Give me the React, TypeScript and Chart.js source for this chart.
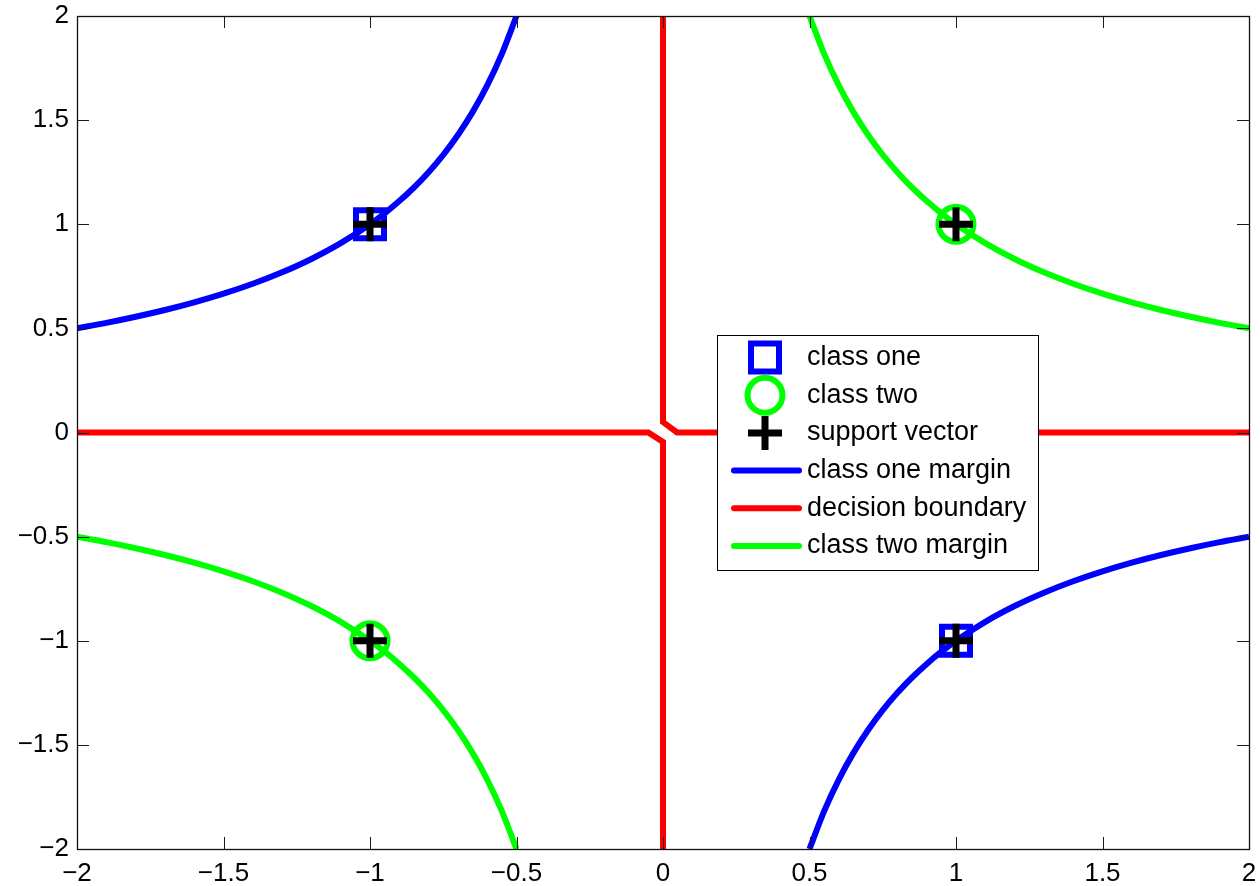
import React, { useEffect, useRef } from 'react';
import { Chart, registerables } from 'chart.js';

Chart.register(...registerables);

// ---- data ----
const classOneX = [-1, 1];
const classOneY = [1, -1];
const classTwoX = [1, -1];
const classTwoY = [1, -1];
const supportX = [-1, 1, 1, -1];
const supportY = [1, -1, 1, -1];

// class one margin (upper-left branch)
const marginOneLeftX = [-2, -1.9, -1.8, -1.7, -1.6, -1.5, -1.4, -1.3, -1.2, -1.1, -1.0, -0.95, -0.9, -0.85, -0.8, -0.75, -0.7, -0.65, -0.6, -0.55, -0.5];
const marginOneLeftY = [0.5, 0.5263, 0.5556, 0.5882, 0.625, 0.6667, 0.7143, 0.7692, 0.8333, 0.9091, 1.0, 1.0526, 1.1111, 1.1765, 1.25, 1.3333, 1.4286, 1.5385, 1.6667, 1.8182, 2.0];
// class one margin (lower-right branch)
const marginOneRightX = [0.5, 0.55, 0.6, 0.65, 0.7, 0.75, 0.8, 0.85, 0.9, 0.95, 1.0, 1.1, 1.2, 1.3, 1.4, 1.5, 1.6, 1.7, 1.8, 1.9, 2.0];
const marginOneRightY = [-2.0, -1.8182, -1.6667, -1.5385, -1.4286, -1.3333, -1.25, -1.1765, -1.1111, -1.0526, -1.0, -0.9091, -0.8333, -0.7692, -0.7143, -0.6667, -0.625, -0.5882, -0.5556, -0.5263, -0.5];
// class two margin (upper-right branch)
const marginTwoRightX = [0.5, 0.55, 0.6, 0.65, 0.7, 0.75, 0.8, 0.85, 0.9, 0.95, 1.0, 1.1, 1.2, 1.3, 1.4, 1.5, 1.6, 1.7, 1.8, 1.9, 2.0];
const marginTwoRightY = [2.0, 1.8182, 1.6667, 1.5385, 1.4286, 1.3333, 1.25, 1.1765, 1.1111, 1.0526, 1.0, 0.9091, 0.8333, 0.7692, 0.7143, 0.6667, 0.625, 0.5882, 0.5556, 0.5263, 0.5];
// class two margin (lower-left branch)
const marginTwoLeftX = [-2, -1.9, -1.8, -1.7, -1.6, -1.5, -1.4, -1.3, -1.2, -1.1, -1.0, -0.95, -0.9, -0.85, -0.8, -0.75, -0.7, -0.65, -0.6, -0.55, -0.5];
const marginTwoLeftY = [-0.5, -0.5263, -0.5556, -0.5882, -0.625, -0.6667, -0.7143, -0.7692, -0.8333, -0.9091, -1.0, -1.0526, -1.1111, -1.1765, -1.25, -1.3333, -1.4286, -1.5385, -1.6667, -1.8182, -2.0];

// decision boundary (two contour pieces)
const boundaryUpperX = [0, 0, 0.048, 2];
const boundaryUpperY = [2, 0.05, 0, 0];
const boundaryLowerX = [-2, -0.05, 0, 0];
const boundaryLowerY = [0, 0, -0.045, -2];

const xTicks = [-2, -1.5, -1, -0.5, 0, 0.5, 1, 1.5, 2];
const yTicks = [-2, -1.5, -1, -0.5, 0, 0.5, 1, 1.5, 2];

const legendLabels = ['class one', 'class two', 'support vector', 'class one margin', 'decision boundary', 'class two margin'];

const BLUE = '#0000ff';
const RED = '#ff0000';
const GREEN = '#00ff00';
const BLACK = '#000000';
const FONT = '"Liberation Sans", Arial, Helvetica, sans-serif';

const zip = (xs: number[], ys: number[]) => xs.map((x, i) => ({ x, y: ys[i] }));

const lineDs = (data: { x: number; y: number }[], color: string, order: number) => ({
  type: 'scatter' as const,
  data,
  showLine: true,
  borderColor: color,
  backgroundColor: color,
  borderWidth: 6,
  pointRadius: 0,
  pointHoverRadius: 0,
  cubicInterpolationMode: 'monotone' as const,
  borderCapStyle: 'butt' as const,
  order,
});

const minus = (v: number) => String(v).replace('-', '\u2212');

const framePlugin = {
  id: 'matlabFrame',
  afterDatasetsDraw(chart: any) {
    const { ctx, chartArea: a, scales } = chart;
    const L = 12;
    ctx.save();
    ctx.strokeStyle = '#1a1a1a';
    ctx.lineWidth = 1;
    ctx.beginPath();
    xTicks.forEach((v) => {
      const px = Math.round(scales.x.getPixelForValue(v)) + 0.5;
      ctx.moveTo(px, a.bottom);
      ctx.lineTo(px, a.bottom - L);
      ctx.moveTo(px, a.top);
      ctx.lineTo(px, a.top + L);
    });
    yTicks.forEach((v) => {
      const py = Math.round(scales.y.getPixelForValue(v)) + 0.5;
      ctx.moveTo(a.left, py);
      ctx.lineTo(a.left + L, py);
      ctx.moveTo(a.right, py);
      ctx.lineTo(a.right - L, py);
    });
    ctx.stroke();
    ctx.lineWidth = 1.3;
    ctx.strokeStyle = '#111';
    ctx.strokeRect(Math.round(a.left) + 0.5, Math.round(a.top) + 0.5, Math.round(a.right - a.left), Math.round(a.bottom - a.top));
    ctx.restore();
  },
  afterDraw(chart: any) {
    const { ctx } = chart;
    const bx = 717, by = 335, bw = 321, bh = 235;
    ctx.save();
    ctx.fillStyle = '#fff';
    ctx.fillRect(bx, by, bw, bh);
    ctx.strokeStyle = '#000';
    ctx.lineWidth = 1;
    ctx.strokeRect(bx + 0.5, by + 0.5, bw, bh);

    const mx = 765;
    const rowY = (i: number) => 357.5 + i * 37.7;

    // class one (square)
    ctx.strokeStyle = BLUE;
    ctx.lineWidth = 6;
    ctx.strokeRect(mx - 14, rowY(0) - 14, 28, 28);
    // class two (circle)
    ctx.strokeStyle = GREEN;
    ctx.beginPath();
    ctx.arc(mx, rowY(1), 17.5, 0, Math.PI * 2);
    ctx.stroke();
    // support vector (plus)
    ctx.strokeStyle = BLACK;
    ctx.lineWidth = 7;
    ctx.beginPath();
    ctx.moveTo(mx - 17, rowY(2));
    ctx.lineTo(mx + 17, rowY(2));
    ctx.moveTo(mx, rowY(2) - 17);
    ctx.lineTo(mx, rowY(2) + 17);
    ctx.stroke();
    // lines
    ctx.lineCap = 'round';
    ctx.lineWidth = 6;
    [BLUE, RED, GREEN].forEach((c, k) => {
      ctx.strokeStyle = c;
      ctx.beginPath();
      ctx.moveTo(734, rowY(3 + k));
      ctx.lineTo(799, rowY(3 + k));
      ctx.stroke();
    });

    ctx.fillStyle = '#000';
    ctx.font = `27px ${FONT}`;
    ctx.textAlign = 'left';
    ctx.textBaseline = 'middle';
    legendLabels.forEach((t, i) => ctx.fillText(t, 807, rowY(i)));
    ctx.restore();
  },
};

const zeroPad = (s: any) => {
  s.paddingTop = 0;
  s.paddingBottom = 0;
  s.paddingLeft = 0;
  s.paddingRight = 0;
};

export default function App() {
  const ref = useRef<HTMLCanvasElement>(null);

  useEffect(() => {
    if (!ref.current) return;
    const chart = new Chart(ref.current, {
      type: 'scatter',
      data: {
        datasets: [
          {
            type: 'scatter',
            label: 'support vector',
            data: zip(supportX, supportY),
            pointStyle: 'cross',
            pointRadius: 17,
            pointHoverRadius: 17,
            borderColor: BLACK,
            backgroundColor: BLACK,
            pointBorderWidth: 7,
            borderWidth: 7,
            showLine: false,
            order: 0,
          } as any,
          lineDs(zip(marginOneLeftX, marginOneLeftY), BLUE, 1),
          lineDs(zip(marginOneRightX, marginOneRightY), BLUE, 1),
          lineDs(zip(marginTwoRightX, marginTwoRightY), GREEN, 1),
          lineDs(zip(marginTwoLeftX, marginTwoLeftY), GREEN, 1),
          { ...lineDs(zip(boundaryUpperX, boundaryUpperY), RED, 2), cubicInterpolationMode: 'default', tension: 0 } as any,
          { ...lineDs(zip(boundaryLowerX, boundaryLowerY), RED, 2), cubicInterpolationMode: 'default', tension: 0 } as any,
          {
            type: 'scatter',
            label: 'class one',
            data: zip(classOneX, classOneY),
            pointStyle: 'rect',
            pointRadius: 19.8,
            pointHoverRadius: 19.8,
            borderColor: BLUE,
            backgroundColor: 'rgba(0,0,0,0)',
            pointBorderWidth: 6,
            borderWidth: 6,
            showLine: false,
            order: 3,
          } as any,
          {
            type: 'scatter',
            label: 'class two',
            data: zip(classTwoX, classTwoY),
            pointStyle: 'circle',
            pointRadius: 17.5,
            pointHoverRadius: 17.5,
            borderColor: GREEN,
            backgroundColor: 'rgba(0,0,0,0)',
            pointBorderWidth: 6,
            borderWidth: 6,
            showLine: false,
            order: 3,
          } as any,
        ],
      },
      options: {
        responsive: false,
        animation: false,
        devicePixelRatio: 1,
        events: [],
        layout: { autoPadding: false, padding: { top: 16, right: 11, left: 0, bottom: 0 } },
        plugins: {
          legend: { display: false },
          tooltip: { enabled: false },
        },
        scales: {
          x: {
            type: 'linear',
            min: -2,
            max: 2,
            grid: { display: false, drawTicks: false },
            border: { display: false },
            afterBuildTicks: (s: any) => {
              s.ticks = xTicks.map((v) => ({ value: v }));
            },
            afterFit: (s: any) => {
              s.height = 37;
              zeroPad(s);
            },
            ticks: {
              autoSkip: false,
              maxRotation: 0,
              padding: 9,
              color: '#000',
              font: { family: FONT, size: 26 },
              callback: (v: any) => minus(Number(v)),
            },
          },
          y: {
            type: 'linear',
            min: -2,
            max: 2,
            grid: { display: false, drawTicks: false },
            border: { display: false },
            afterBuildTicks: (s: any) => {
              s.ticks = yTicks.map((v) => ({ value: v }));
            },
            afterFit: (s: any) => {
              s.width = 77;
              zeroPad(s);
            },
            ticks: {
              autoSkip: false,
              padding: 8,
              color: '#000',
              font: { family: FONT, size: 26 },
              callback: (v: any) => minus(Number(v)),
            },
          },
        },
      } as any,
      plugins: [framePlugin],
    });
    return () => chart.destroy();
  }, []);

  return (
    <div style={{ position: 'fixed', left: 0, top: 0, width: 1260, height: 886, background: '#fff' }}>
      <canvas ref={ref} width={1260} height={886} style={{ display: 'block', width: 1260, height: 886 }} />
    </div>
  );
}
